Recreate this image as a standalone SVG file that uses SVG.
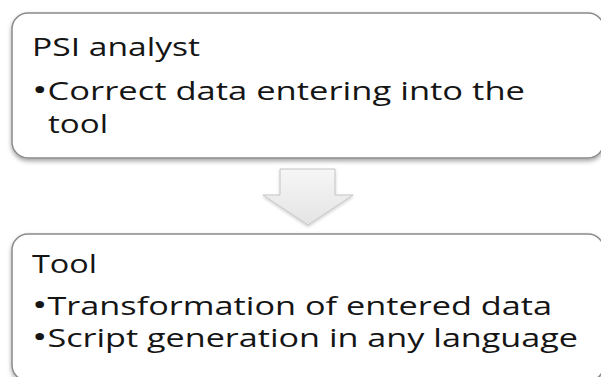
<svg xmlns="http://www.w3.org/2000/svg" width="601" height="377" viewBox="0 0 601 377">
  <style>
    .box { fill: #ffffff; stroke: #8a8a8a; stroke-width: 1.5; filter: url(#shadow); }
    .t { font-family: "Open Sans", "Liberation Sans", sans-serif; font-size: 25px; fill: #151515; }
    .b { font-size: 30px; }
    .arrow { fill: url(#arrowFill); stroke: #c4c4c4; stroke-width: 1; filter: url(#softShadow); }
  </style>
  <defs>
    <filter id="shadow" x="-5%" y="-10%" width="110%" height="125%">
      <feDropShadow dx="0" dy="2.5" stdDeviation="2" flood-color="#000" flood-opacity="0.35"/>
    </filter>
    <filter id="softShadow" x="-20%" y="-20%" width="140%" height="140%">
      <feDropShadow dx="0" dy="1.5" stdDeviation="1.5" flood-color="#000" flood-opacity="0.2"/>
    </filter>
    <linearGradient id="arrowFill" x1="0" y1="0" x2="0" y2="1">
      <stop offset="0" stop-color="#f6f6f6"/>
      <stop offset="1" stop-color="#e4e4e4"/>
    </linearGradient>
  </defs>

  <g id="connectors">
    <path class="arrow" d="M280,169 L335,169 L335,195 L353,195 L308,225 L263,195 L280,195 Z"/>
  </g>

  <g id="node-psi-analyst">
    <rect class="box" x="12" y="13" width="592" height="145" rx="16" ry="16"/>
    <text class="t" x="32" y="56" textLength="168" lengthAdjust="spacingAndGlyphs">PSI analyst</text>
    <text class="t" x="32" y="100" textLength="493" lengthAdjust="spacingAndGlyphs"><tspan class="b">•</tspan>Correct data entering into the</text>
    <text class="t" x="48" y="133" textLength="60" lengthAdjust="spacingAndGlyphs">tool</text>
  </g>

  <g id="node-tool">
    <rect class="box" x="12" y="234" width="592" height="147" rx="16" ry="16"/>
    <text class="t" x="32" y="273" textLength="65" lengthAdjust="spacingAndGlyphs">Tool</text>
    <text class="t" x="32" y="315" textLength="520" lengthAdjust="spacingAndGlyphs"><tspan class="b">•</tspan>Transformation of entered data</text>
    <text class="t" x="32" y="347" textLength="546" lengthAdjust="spacingAndGlyphs"><tspan class="b">•</tspan>Script generation in any language</text>
  </g>
</svg>
